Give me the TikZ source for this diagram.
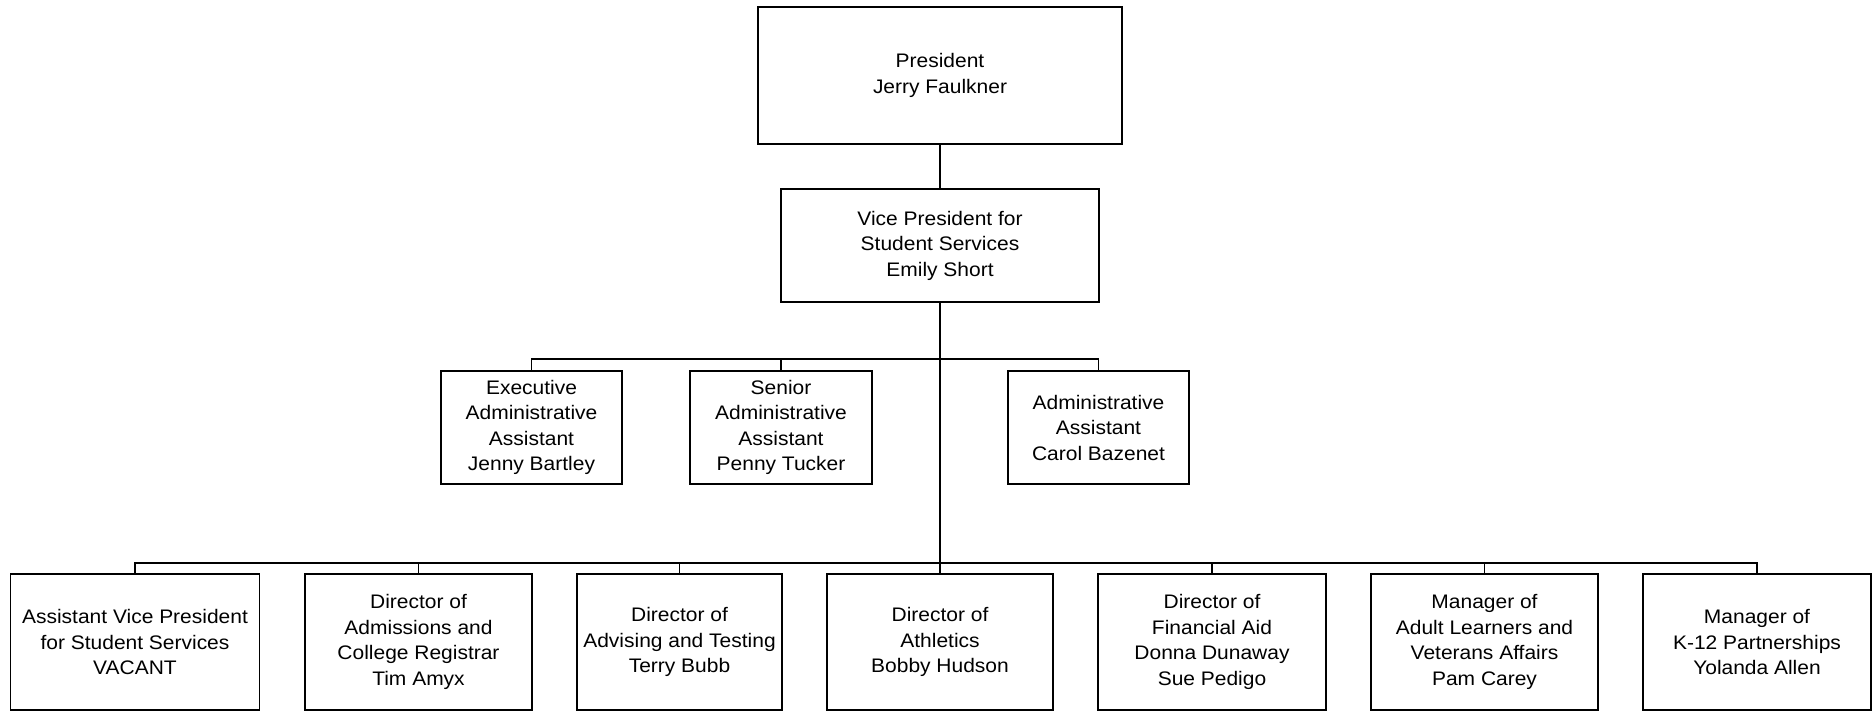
\documentclass[tikz,border=0pt]{standalone}
\usepackage{fontspec}
\setmainfont[FakeStretch=1.07]{Liberation Sans}
\usepackage{tikz}
\usetikzlibrary{positioning}
\tikzset{
  obox/.style ={rectangle, draw=black, line width=0.9pt, fill=white, align=center,
                inner sep=0pt, outer sep=0pt, font=\fontsize{9.8}{12.75}\selectfont},
  topbox/.style={obox, minimum width=182pt, minimum height=68.5pt},
  vpbox/.style ={obox, minimum width=159pt, minimum height=56.5pt},
  abox/.style  ={obox, minimum width=90.5pt, minimum height=56.5pt},
  dbox/.style  ={obox, minimum height=68pt},
  link/.style  ={line width=0.9pt},
}

\begin{document}
\begin{tikzpicture}[x=0.5pt, y=-0.5pt]
  \useasboundingbox (0,0) rectangle (1872,712);
  \node[topbox] (pres) at (940,75.5)  {President\\Jerry Faulkner};
  \node[vpbox]  (vp)   at (940,245.5) {Vice President for\\Student Services\\Emily Short};
  % assistants
  \node[abox] (ea) at (531.5,427.5)  {Executive\\Administrative\\Assistant\\Jenny Bartley};
  \node[abox, minimum width=91pt] (sa) at (781,427.5) {Senior\\Administrative\\Assistant\\Penny Tucker};
  \node[abox] (aa) at (1098.5,427.5) {Administrative\\Assistant\\Carol Bazenet};
  % directors and managers
  \node[dbox, minimum width=124.5pt] (d1) at (135,642)    {Assistant Vice President\\for Student Services\\VACANT};
  \node[dbox, minimum width=113.5pt] (d2) at (418.5,642)  {Director of\\Admissions and\\College Registrar\\Tim Amyx};
  \node[dbox, minimum width=102.5pt] (d3) at (679.5,642)  {Director of\\Advising and Testing\\Terry Bubb};
  \node[dbox, minimum width=113pt]   (d4) at (940,642)    {Director of\\Athletics\\Bobby Hudson};
  \node[dbox, minimum width=114pt]   (d5) at (1212,642)   {Director of\\Financial Aid\\Donna Dunaway\\Sue Pedigo};
  \node[dbox, minimum width=113.5pt] (d6) at (1484.5,642) {Manager of\\Adult Learners and\\Veterans Affairs\\Pam Carey};
  \node[dbox, minimum width=114pt]   (d7) at (1757,642)   {Manager of\\K-12 Partnerships\\Yolanda Allen};
  \coordinate (abus) at (940,359);
  \coordinate (dbus) at (940,563);
  % connectors
  \draw[link] (pres) -- (vp);
  \draw[link] (vp) -- (d4);
  \draw[link] (ea.north) |- (abus) -| (aa.north);
  \draw[link] (sa.north) |- (abus);
  \draw[link] (d1.north) |- (dbus) -| (d7.north);
  \foreach \i in {2,3,5,6}
    \draw[link] (d\i.north) |- (dbus);
\end{tikzpicture}
\end{document}
